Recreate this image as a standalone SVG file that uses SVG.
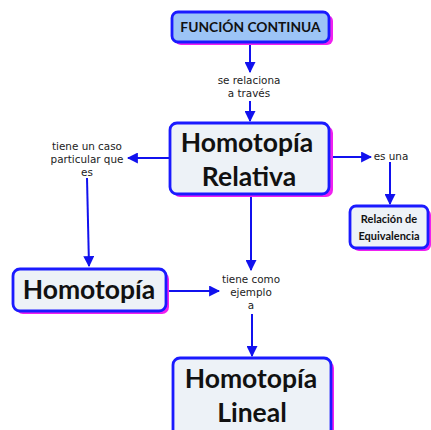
<svg xmlns="http://www.w3.org/2000/svg" width="431" height="430" viewBox="0 0 431 430">
  <defs>
    <marker id="arrow" viewBox="0 0 10 10" refX="9" refY="5" markerWidth="5.5" markerHeight="5.5" orient="auto-start-reverse" markerUnits="strokeWidth">
      <path d="M0,0 L10,5 L0,10 z" fill="#1111ee"/>
    </marker>
  </defs>
  <style>
    .box { fill: #edf2f7; stroke: #1a1aff; stroke-width: 2.8; }
    .top { fill: #9cc4f6; }
    .shadow { fill: #f020f0; }
    .title { font-family: Lato, "Open Sans", sans-serif; font-weight: bold; fill: #111; text-anchor: middle; }
    .lbl { font-family: "DejaVu Sans", Verdana, sans-serif; font-size: 10.4px; fill: #222; text-anchor: middle; }
    .edge { stroke: #1111ee; stroke-width: 2; fill: none; }
  </style>
  <rect width="431" height="430" fill="#ffffff"/>

  <g id="connectors">
    <path class="edge" d="M250,44 L250,72" marker-end="url(#arrow)"/>
    <path class="edge" d="M250,101 L250,121" marker-end="url(#arrow)"/>
    <path class="edge" d="M170,158 L128,158" marker-end="url(#arrow)"/>
    <path class="edge" d="M87,178 L89,266" marker-end="url(#arrow)"/>
    <path class="edge" d="M330,157 L371,157" marker-end="url(#arrow)"/>
    <path class="edge" d="M390,162 L390,204" marker-end="url(#arrow)"/>
    <path class="edge" d="M251,195 L251,270" marker-end="url(#arrow)"/>
    <path class="edge" d="M166,291 L219,291" marker-end="url(#arrow)"/>
    <path class="edge" d="M252,314 L252,356" marker-end="url(#arrow)"/>
  </g>

  <g id="labels">
    <text class="lbl" x="249" y="84">se relaciona</text>
    <text class="lbl" x="249" y="97">a través</text>
    <text class="lbl" x="87" y="150">tiene un caso</text>
    <text class="lbl" x="87" y="163">particular que</text>
    <text class="lbl" x="87" y="176">es</text>
    <text class="lbl" x="391" y="160">es una</text>
    <text class="lbl" x="251" y="283">tiene como</text>
    <text class="lbl" x="251" y="296">ejemplo</text>
    <text class="lbl" x="251" y="309">a</text>
  </g>

  <g id="funcion-continua">
    <rect class="shadow" x="175" y="15" width="158" height="30" rx="6"/>
    <rect class="box top" x="172" y="12" width="157" height="30" rx="6"/>
    <text class="title" x="250.5" y="32" font-size="13.8">FUNCIÓN CONTINUA</text>
  </g>

  <g id="homotopia-relativa">
    <rect class="shadow" x="173" y="126" width="160" height="71" rx="7"/>
    <rect class="box" x="170" y="123" width="159" height="71" rx="7"/>
    <text class="title" x="247" y="152" font-size="26.5">Homotopía</text>
    <text class="title" x="249" y="186" font-size="26.5">Relativa</text>
  </g>

  <g id="relacion-equivalencia">
    <rect class="shadow" x="353" y="209" width="78" height="42" rx="6"/>
    <rect class="box" x="350" y="206" width="78" height="42" rx="6"/>
    <text class="title" x="389" y="223" font-size="11">Relación de</text>
    <text class="title" x="389" y="240" font-size="11">Equivalencia</text>
  </g>

  <g id="homotopia">
    <rect class="shadow" x="16" y="272" width="153" height="42" rx="7"/>
    <rect class="box" x="13" y="269" width="153" height="42" rx="7"/>
    <text class="title" x="89" y="299" font-size="26.5">Homotopía</text>
  </g>

  <g id="homotopia-lineal">
    <rect class="shadow" x="176" y="361" width="158" height="80" rx="7"/>
    <rect class="box" x="173" y="358" width="158" height="80" rx="7"/>
    <text class="title" x="251" y="388" font-size="26.5">Homotopía</text>
    <text class="title" x="252" y="422" font-size="26.5">Lineal</text>
  </g>
</svg>
